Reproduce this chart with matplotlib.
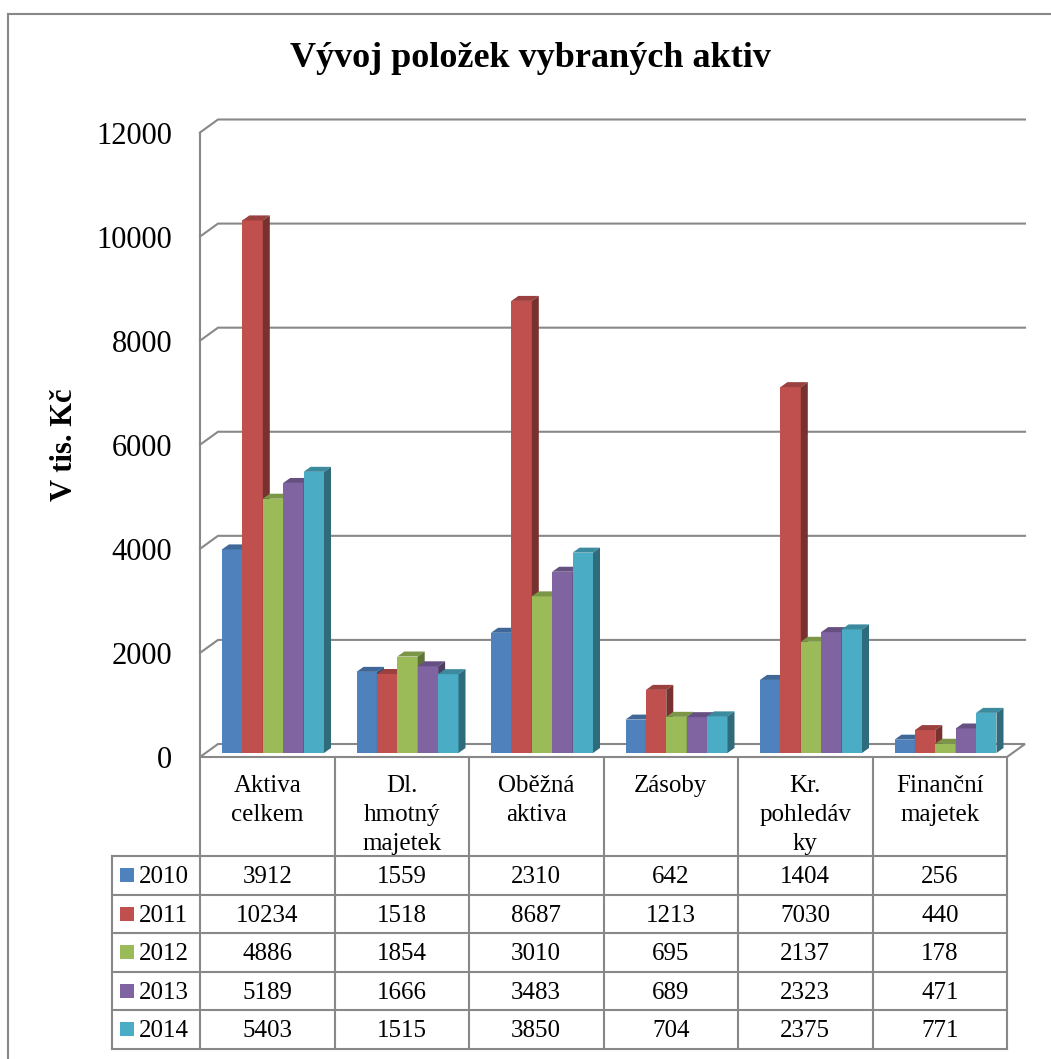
import matplotlib as mpl
import matplotlib.pyplot as plt
from matplotlib.colors import to_rgb
from matplotlib.patches import Polygon, Rectangle

# data
kategorie = ['Aktiva\ncelkem', 'Dl.\nhmotný\nmajetek', 'Oběžná\naktiva',
             'Zásoby', 'Kr.\npohledáv\nky', 'Finanční\nmajetek']
roky = ['2010', '2011', '2012', '2013', '2014']
h2010 = [3912, 1559, 2310, 642, 1404, 256]
h2011 = [10234, 1518, 8687, 1213, 7030, 440]
h2012 = [4886, 1854, 3010, 695, 2137, 178]
h2013 = [5189, 1666, 3483, 689, 2323, 471]
h2014 = [5403, 1515, 3850, 704, 2375, 771]
hodnoty = [h2010, h2011, h2012, h2013, h2014]
yticks = [0, 2000, 4000, 6000, 8000, 10000, 12000]

barvy = ['#4F81BD', '#C0504D', '#9BBB59', '#8064A2', '#4BACC6']
seda = '#888888'

mpl.rcParams['font.family'] = ['Liberation Serif', 'DejaVu Serif']

W, H = 1051, 1059
fig = plt.figure(figsize=(W / 100, H / 100), dpi=100)

# hlavni graf - 1 jednotka x = 1 sloupec tabulky (134.5 px)
UX = 1 / 134.5
UY = 12000 / 624.5
ax = fig.add_axes([200 / W, (H - 757) / H, 830 / W, (757 - 115) / H])
ax.set_xlim(0, 830 * UX)
ax.set_ylim(0, 642 * UY)
ax.patch.set_visible(False)
for s in ['top', 'right', 'bottom']:
    ax.spines[s].set_visible(False)
ax.spines['left'].set_bounds(0, 12000)
ax.spines['left'].set_color(seda)
ax.spines['left'].set_linewidth(1.5)
ax.set_xticks([])
ax.set_yticks(yticks)
ax.tick_params(axis='y', length=0, pad=20, labelsize=22)

n = len(kategorie)
WDX, WDY = 18 * UX, 13 * UY
for v in yticks[1:]:
    ax.plot([0, WDX, n + WDX], [v, v + WDY, v + WDY], color=seda, lw=1.5, zorder=1,
            clip_on=False)
ax.add_patch(Polygon([(0, 0), (n, 0), (n + WDX, WDY), (WDX, WDY)], closed=True,
                     facecolor='white', edgecolor=seda, lw=1.5, zorder=1, clip_on=False))

# sloupce s 3D efektem
BW = 20.4 * UX
OFF = 22 * UX
BASE = 4 * UY
DDX, DDY = 7 * UX, 5 * UY


def tmavsi(c, f):
    r, g, b = to_rgb(c)
    return (r * f, g * f, b * f)


for j, vals in enumerate(hodnoty):
    xs = [i + OFF + j * BW for i in range(n)]
    ax.bar(xs, vals, width=BW, bottom=BASE, align='edge', color=barvy[j], lw=0,
           zorder=3 + j * 3)
    for xl, v in zip(xs, vals):
        top = BASE + v
        ax.add_patch(Polygon([(xl, top), (xl + BW, top), (xl + BW + DDX, top + DDY),
                              (xl + DDX, top + DDY)], closed=True,
                             facecolor=tmavsi(barvy[j], 0.8), lw=0, zorder=4 + j * 3))
        ax.add_patch(Polygon([(xl + BW, BASE), (xl + BW + DDX, BASE + DDY),
                              (xl + BW + DDX, top + DDY), (xl + BW, top)], closed=True,
                             facecolor=tmavsi(barvy[j], 0.62), lw=0, zorder=5 + j * 3))

# titulek, popisky, tabulka
ov = fig.add_axes([0, 0, 1, 1])
ov.set_xlim(0, W)
ov.set_ylim(H, 0)
ov.axis('off')

ov.plot([7.5, 7.5], [H, 13.5], color=seda, lw=1.5)
ov.plot([7.5, W], [13.5, 13.5], color=seda, lw=1.5)

ov.text(530, 67, 'Vývoj položek vybraných aktiv', ha='center', va='baseline',
        fontsize=26, fontweight='bold')
ov.text(65, 445, 'V tis. Kč', ha='center', va='center', rotation=90,
        fontsize=22, fontweight='bold')

CW = 134.5
x0 = 200
x_end = x0 + n * CW
rows = [856 + 38.6 * k for k in range(len(roky) + 1)]
lw_t = 1.5

for k in range(n + 1):
    ov.plot([x0 + k * CW] * 2, [757, rows[-1]], color=seda, lw=lw_t)
ov.plot([112, 112], [rows[0], rows[-1]], color=seda, lw=lw_t)
for r in rows:
    ov.plot([112, x_end], [r, r], color=seda, lw=lw_t)

for i, kat in enumerate(kategorie):
    cx = x0 + (i + 0.5) * CW
    for k, radek in enumerate(kat.split('\n')):
        ov.text(cx, 792 + 29 * k, radek, ha='center', va='baseline', fontsize=18)

for j, (rok, vals) in enumerate(zip(roky, hodnoty)):
    rt = rows[j]
    ov.add_patch(Rectangle((120, rt + 12), 14, 14, facecolor=barvy[j], lw=0))
    ov.text(139, rt + 27, rok, ha='left', va='baseline', fontsize=18)
    for i, v in enumerate(vals):
        ov.text(x0 + (i + 0.5) * CW, rt + 27, str(v), ha='center', va='baseline',
                fontsize=18)

fig.savefig('out.png', dpi=100)
